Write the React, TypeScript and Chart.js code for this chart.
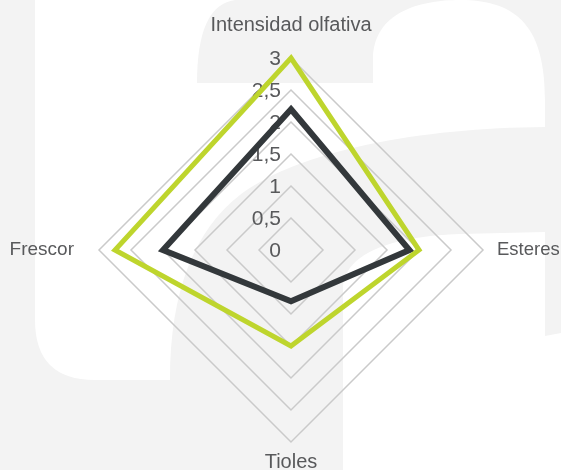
import React, { useEffect, useRef } from 'react';
import { Chart, registerables } from 'chart.js';

Chart.register(...registerables);

const categories = ['Intensidad olfativa', 'Esteres', 'Tioles', 'Frescor'];
const seriesGreen = [3, 2, 1.5, 2.75];
const seriesDark = [2.2, 1.85, 0.8, 2];
const tickValues = [0, 0.5, 1, 1.5, 2, 2.5, 3];
const tickLabels = ['0', '0,5', '1', '1,5', '2', '2,5', '3'];

const FONT = '"Liberation Sans", Arial, sans-serif';
const TEXT_COLOR = '#58595b';

const watermarkPlugin = {
  id: 'watermark',
  beforeDraw(chart: any) {
    const ctx = chart.ctx;
    const W = chart.width;
    const H = chart.height;
    ctx.save();
    ctx.fillStyle = '#f3f3f3';
    ctx.fillRect(0, 0, W, H);
    ctx.fillStyle = '#ffffff';
    ctx.beginPath();
    ctx.moveTo(35, 0);
    ctx.lineTo(235, 0);
    ctx.quadraticCurveTo(197, 5, 197, 83);
    ctx.lineTo(373, 83);
    ctx.lineTo(373, 60);
    ctx.bezierCurveTo(373, 12, 420, 0, 460, 0);
    ctx.bezierCurveTo(520, 0, 545, 30, 545, 100);
    ctx.lineTo(545, 127);
    ctx.bezierCurveTo(420, 128, 300, 150, 240, 195);
    ctx.bezierCurveTo(195, 230, 170, 290, 170, 380);
    ctx.lineTo(95, 380);
    ctx.quadraticCurveTo(35, 380, 35, 320);
    ctx.closePath();
    ctx.fill();
    ctx.beginPath();
    ctx.moveTo(343, 470);
    ctx.lineTo(343, 290);
    ctx.bezierCurveTo(343, 250, 400, 236, 460, 234);
    ctx.lineTo(545, 232);
    ctx.lineTo(545, 336);
    ctx.lineTo(561, 333);
    ctx.lineTo(561, 470);
    ctx.closePath();
    ctx.fill();
    ctx.restore();
  },
};

const labelsPlugin = {
  id: 'radarLabels',
  beforeDatasetsDraw(chart: any) {
    const s = chart.scales.r;
    const ctx = chart.ctx;
    ctx.save();
    ctx.fillStyle = TEXT_COLOR;
    ctx.font = `21px ${FONT}`;
    ctx.textAlign = 'right';
    ctx.textBaseline = 'middle';
    tickValues.forEach((v, i) => {
      const d = s.getDistanceFromCenterForValue(v);
      ctx.fillText(tickLabels[i], s.xCenter - 10, s.yCenter - d + 1);
    });
    const offsets = [33, 14, 20, 25];
    const sizes = [20, 18.5, 20, 19];
    const aligns = ['center', 'left', 'center', 'right'];
    categories.forEach((c, i) => {
      const p = s.getPointPosition(i, s.drawingArea + offsets[i]);
      ctx.font = `${sizes[i]}px ${FONT}`;
      ctx.textAlign = aligns[i];
      ctx.textBaseline = 'middle';
      ctx.fillText(c, p.x, p.y);
    });
    ctx.restore();
  },
};

export default function App() {
  const ref = useRef<HTMLCanvasElement | null>(null);
  useEffect(() => {
    if (!ref.current) return;
    const chart = new Chart(ref.current, {
      type: 'radar',
      data: {
        labels: categories,
        datasets: [
          {
            label: 'A',
            data: seriesGreen,
            borderColor: '#bed52d',
            borderWidth: 5,
            fill: false,
            pointRadius: 0,
            pointHoverRadius: 0,
            borderJoinStyle: 'miter',
          },
          {
            label: 'B',
            data: seriesDark,
            borderColor: '#33383b',
            borderWidth: 6,
            fill: false,
            pointRadius: 0,
            pointHoverRadius: 0,
            borderJoinStyle: 'miter',
          },
        ],
      },
      options: {
        animation: false,
        responsive: true,
        maintainAspectRatio: false,
        layout: { padding: { left: 99, right: 78, top: 58, bottom: 28 } },
        plugins: { legend: { display: false }, tooltip: { enabled: false } },
        scales: {
          r: {
            min: 0,
            max: 3,
            beginAtZero: true,
            ticks: { display: false, stepSize: 0.5 },
            grid: { color: '#cacaca', lineWidth: 1.5, circular: false },
            angleLines: { display: false },
            pointLabels: { display: false },
          },
        },
      },
      plugins: [watermarkPlugin, labelsPlugin],
    } as any);
    return () => chart.destroy();
  }, []);
  return (
    <div style={{ position: 'fixed', left: 0, top: 0, width: 561, height: 470 }}>
      <canvas ref={ref} />
    </div>
  );
}
